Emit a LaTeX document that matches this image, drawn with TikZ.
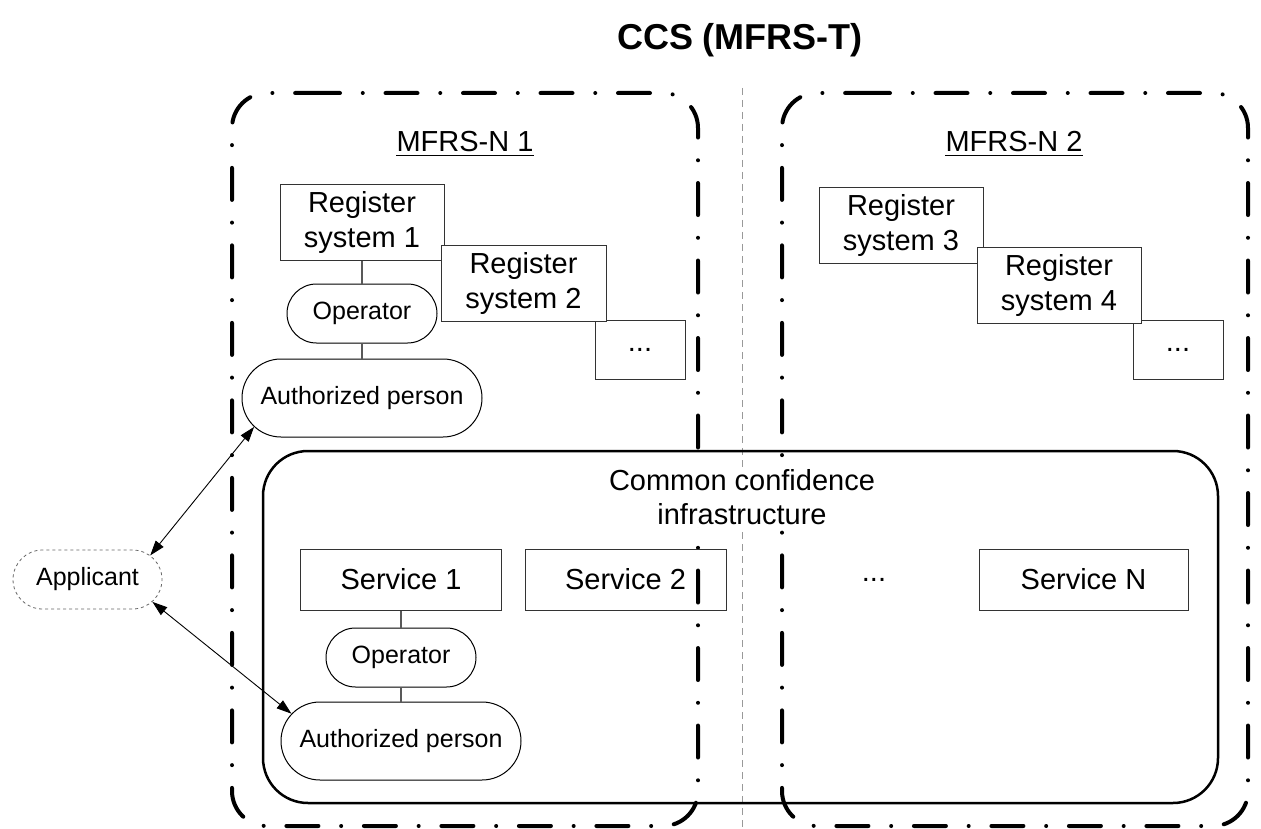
\documentclass[tikz,border=0pt]{standalone}
\usepackage{fontspec}
\setmainfont{Liberation Sans}
\usetikzlibrary{arrows.meta,shapes.misc,calc}

\tikzset{
  boxtext/.style={font=\fontsize{29}{34.5}\selectfont, align=center},
  pilltext/.style={font=\fontsize{25}{30}\selectfont},
  regbox/.style={rectangle, draw=black!80, fill=white, line width=1pt,
    inner sep=0pt, boxtext},
  pill/.style={rounded rectangle, draw=black, fill=white, line width=1pt,
    inner sep=0pt, pilltext},
  mfrsbox/.style={draw=black, line width=4pt, line cap=round,
    dash pattern=on 32pt off 22.75pt on 0pt off 22.75pt, rounded corners=35pt},
  ccibox/.style={draw=black, line width=2.5pt, rounded corners=45pt},
  divider/.style={draw=black!40, line width=1pt, dash pattern=on 7pt off 5pt},
  link/.style={draw=black!65, line width=1.3pt},
  flow/.style={draw=black, line width=0.9pt,
    {Triangle[length=15pt,width=10pt]}-{Triangle[length=15pt,width=10pt]}},
}

\begin{document}
\begin{tikzpicture}[x=1pt, y=-1pt]
  \useasboundingbox (0,0) rectangle (1261,829);

  % title
  \node[anchor=base, inner sep=0pt, font=\fontsize{36}{42}\selectfont\bfseries]
    (title) at (740,50) {CCS (MFRS-T)};

  % vertical divider between the two MFRS-N domains
  \coordinate (divtop) at (742,88);
  \coordinate (divbot) at (742,829);
  \draw[divider] (divtop) -- (divbot);

  % the two MFRS-N domains (open paths starting on the top edge fix the dash phase)
  \draw[mfrsbox] (308,93) -- (698,93) -- (698,826) -- (232,826) -- (232,93) -- (308,93);
  \draw[mfrsbox] (858,93) -- (1248,93) -- (1248,826) -- (782,826) -- (782,93) -- (858,93);

  \node[anchor=base, inner sep=0pt, boxtext] (n1lab) at (465,152) {MFRS-N 1};
  \node[anchor=base, inner sep=0pt, boxtext] (n2lab) at (1014,152) {MFRS-N 2};
  \draw[line width=1.3pt] ($(n1lab.base west)+(0,3.5)$) -- ($(n1lab.base east)+(0,3.5)$);
  \draw[line width=1.3pt] ($(n2lab.base west)+(0,3.5)$) -- ($(n2lab.base east)+(0,3.5)$);

  % register systems of MFRS-N 1
  \node[regbox, minimum width=164pt, minimum height=75pt] (rs1) at (362,222.5) {Register\\system 1};
  \node[regbox, minimum width=90pt, minimum height=59pt] (more1) at (640,349.5) {...};
  \node[regbox, minimum width=165pt, minimum height=75pt] (rs2) at (523.5,283.5) {Register\\system 2};
  \node[pill, minimum width=150pt, minimum height=59pt] (op1) at (362,313.5) {Operator};
  \node[pill, minimum width=240pt, minimum height=78pt] (ap1) at (362,398) {Authorized person};
  \draw[link] (rs1.south) -- (op1.north);
  \draw[link] (op1.south) -- (ap1.north);

  % register systems of MFRS-N 2
  \node[regbox, minimum width=164pt, minimum height=75pt] (rs3) at (901,225.5) {Register\\system 3};
  \node[regbox, minimum width=90pt, minimum height=59pt] (more2) at (1178,349.5) {...};
  \node[regbox, minimum width=164pt, minimum height=75pt] (rs4) at (1059,285.5) {Register\\system 4};

  % common confidence infrastructure
  \draw[ccibox] (263,451) rectangle (1218,803);
  \node[boxtext, fill=white, inner sep=2pt] (cci) at (742,497) {Common confidence\\infrastructure};

  \node[regbox, fill=none, minimum width=201pt, minimum height=61pt] (sv1) at (401,579.5) {Service 1};
  \node[regbox, fill=none, minimum width=201pt, minimum height=61pt] (sv2) at (625.5,579.5) {Service 2};
  \node[boxtext, inner sep=0pt] (svdots) at (874,580) {...};
  \node[regbox, fill=none, minimum width=209pt, minimum height=61pt] (svn) at (1083.5,579.5) {Service N};

  \node[pill, minimum width=150pt, minimum height=59pt] (op2) at (401,657.5) {Operator};
  \node[pill, minimum width=240pt, minimum height=78pt] (ap2) at (401,741) {Authorized person};
  \draw[link] (sv1.south) -- (op2.north);
  \draw[link] (op2.south) -- (ap2.north);

  % applicant and its contacts
  \node[pill, draw=black!60, dashed, line width=0.8pt, minimum width=149pt, minimum height=59pt]
    (app) at (87.5,579.5) {Applicant};
  \draw[flow] (app.21) -- (ap1.195);
  \draw[flow] (app.-19) -- (ap2.166);
\end{tikzpicture}
\end{document}
